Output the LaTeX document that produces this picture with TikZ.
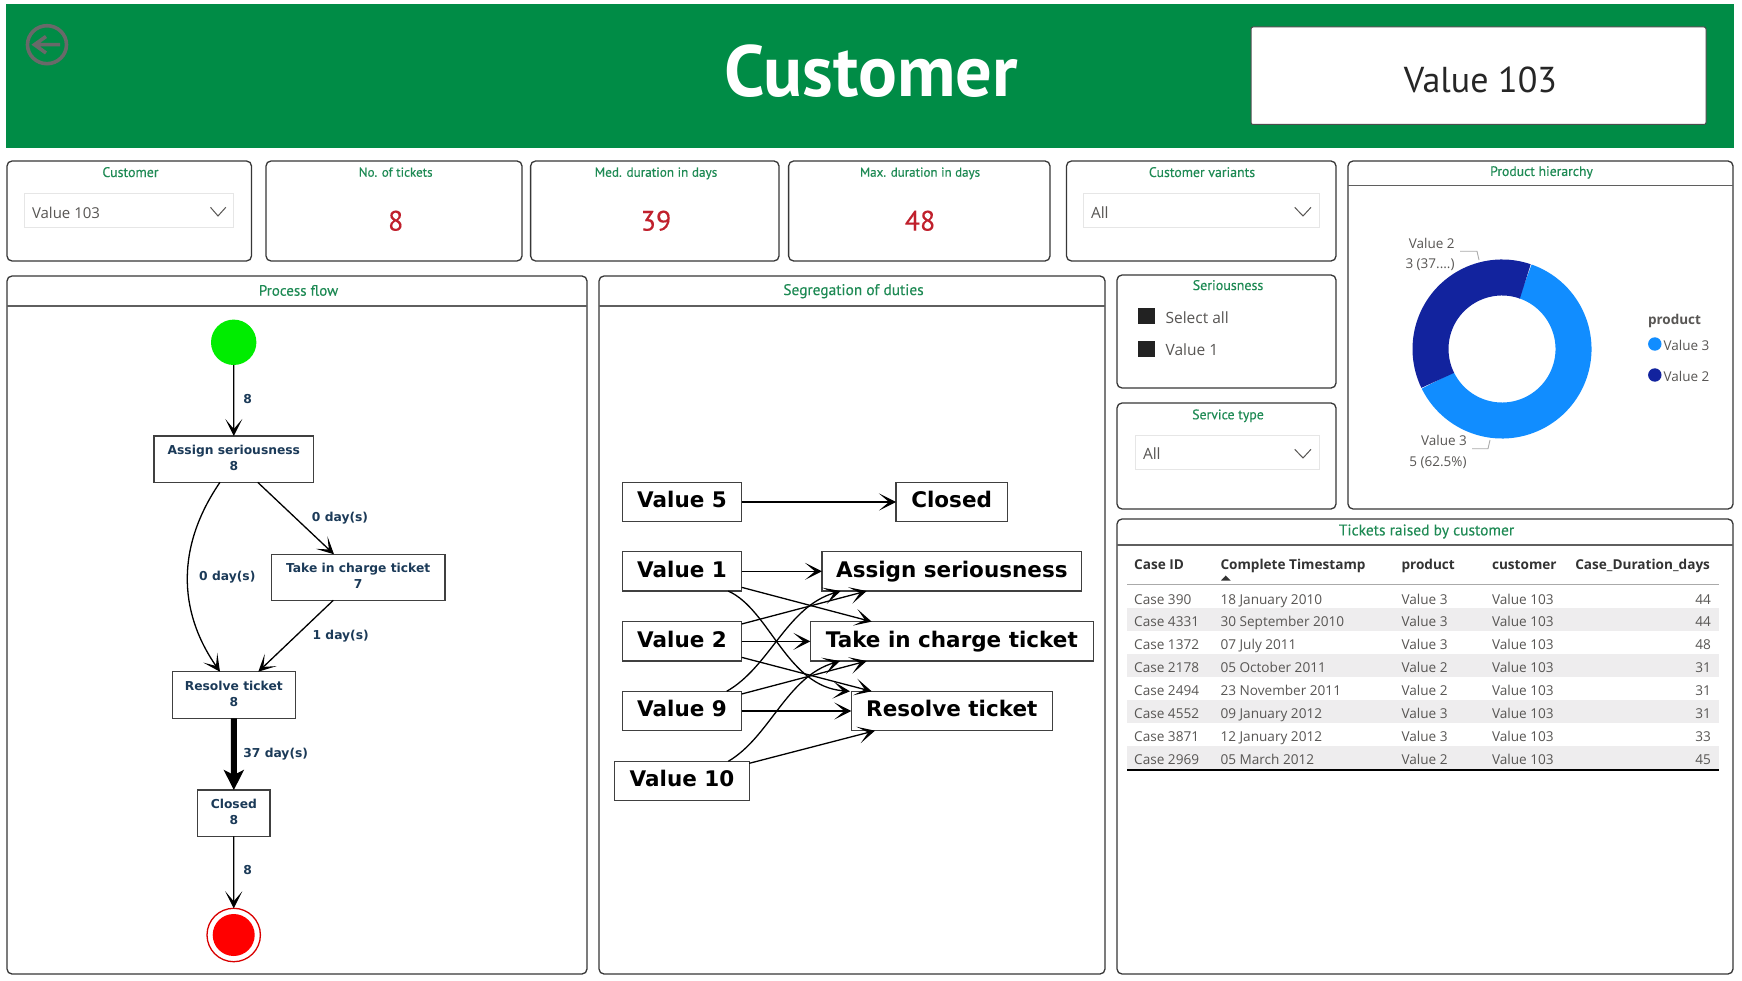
\documentclass[tikz,border=0pt]{standalone}
\usepackage{fontspec}
\setmainfont{Open Sans}
\newfontfamily\din{PT Sans}
\newfontfamily\dinm[FakeBold=0.25]{PT Sans}
\newfontfamily\seg{Open Sans}
\newfontfamily\djv{DejaVu Sans}
\usetikzlibrary{arrows.meta}
\definecolor{hgreen}{RGB}{0,140,70}
\definecolor{tgreen}{RGB}{30,138,84}
\definecolor{kred}{RGB}{192,32,44}
\definecolor{bord}{RGB}{55,55,55}
\definecolor{hline}{RGB}{95,95,95}
\definecolor{sgray}{RGB}{88,86,84}
\definecolor{band}{RGB}{238,237,238}
\definecolor{ddb}{RGB}{230,230,230}
\definecolor{lblue}{RGB}{17,141,255}
\definecolor{dblue}{RGB}{18,35,158}
\definecolor{pflow}{RGB}{27,58,88}
\definecolor{leader}{RGB}{170,170,170}
\definecolor{chk}{RGB}{34,34,34}
\definecolor{backc}{RGB}{105,105,105}
\tikzset{
  x=1pt,y=-1pt,
  every node/.style={inner sep=0pt,outer sep=0pt},
  fs/.style={font=\fontsize{#1}{#1}\selectfont,text height=\dimexpr #1pt*72/100\relax,text depth=0pt},
  panel/.style={draw=bord,line width=1.3pt,rounded corners=5pt,fill=white},
  headline/.style={draw=hline,line width=1.6pt},
  ptitle/.style={fs=#1,text=tgreen,execute at begin node=\dinm,yshift=.7pt},
  kpi/.style={fs=28,text=kred,execute at begin node=\dinm},
  ddbox/.style={draw=ddb,line width=1pt},
  chev/.style={draw=sgray,line width=1pt},
  stext/.style={fs=#1,text=sgray,execute at begin node=\seg},
  ttext/.style={fs=13.6,text=sgray,anchor=west,execute at begin node=\seg},
  thead/.style={fs=13.6,text=black!80,anchor=west,execute at begin node=\seg\bfseries},
  pbox/.style={draw=black!75,line width=1.2pt,fill=white,text=pflow,align=center,text depth=2pt,
     font=\djv\bfseries\fontsize{12.3}{16}\selectfont},
  plabel/.style={fs=12.3,text=pflow,execute at begin node=\djv\bfseries},
  sbox/.style={draw=black!75,line width=1.2pt,fill=white,minimum height=39.4pt,
     font=\djv\bfseries\fontsize{21.5}{24}\selectfont,text height=15pt,text depth=3.4pt},
  edge/.style={draw=black,line width=1.3pt,-{Stealth[length=17pt,width=17pt,inset=10pt]}},
  fatedge/.style={draw=black,line width=6pt,-{Stealth[length=20pt,width=20pt,inset=5pt]}},
}
\begin{document}
\begin{tikzpicture}
\useasboundingbox (0,0) rectangle (1742,981);
\fill[white] (0,0) rectangle (1742,981);
% header
\fill[hgreen] (6,4) rectangle (1734,148);
\draw[draw=backc,line width=3.6pt] (47,44.7) ellipse [x radius=19.5,y radius=19];
\draw[draw=backc,line width=3.6pt] (60,44.7) -- (34.5,44.7) (46,36.5) -- (34.5,44.7) -- (46,53);
\node[fs=72.5,text=white,execute at begin node=\din\bfseries] (maintitle) at (871,70) {Customer};
\draw[fill=white,draw=black!70,line width=1pt,rounded corners=2pt] (1251,27) rectangle (1706,124.5);
\node[fs=36,text=black!85,execute at begin node=\din] (selvalue) at (1480.5,80) {Value 103};
% top row panels
\draw[panel] (7,161) rectangle (251.5,261);
\draw[panel] (266,161) rectangle (522,261);
\draw[panel] (530.6,161) rectangle (779,261);
\draw[panel] (788.6,161) rectangle (1050,261);
\draw[panel] (1066.5,161) rectangle (1336,261);
\node[ptitle=13.9] (t1) at (130.5,172.7) {Customer};
\node[ptitle=13] (t2) at (395.7,172.7) {No. of tickets};
\node[ptitle=13.2] (t3) at (656,172.7) {Med. duration in days};
\node[ptitle=13] (t4) at (920,172.7) {Max. duration in days};
\node[ptitle=13.8] (t5) at (1202,172.7) {Customer variants};
\draw[ddbox] (24.5,193.3) rectangle (233.5,227.7);
\node[stext=15,anchor=west] (dd1) at (32,213) {Value 103};
\draw[chev] (210.5,207.3) -- (218,216) -- (225.8,207.3);
\node[kpi] (k1) at (395.7,220.5) {8};
\node[kpi] (k2) at (656,220.5) {39};
\node[kpi] (k3) at (920,220.5) {48};
\draw[ddbox] (1083,193.3) rectangle (1319,227.7);
\node[stext=15.5,anchor=west] (dd2) at (1091,213) {All};
\draw[chev] (1294.7,207.3) -- (1303,216) -- (1311,207.3);
% Product hierarchy
\draw[panel] (1348,161) rectangle (1733,509);
\draw[headline] (1348,185.7) -- (1733,185.7);
\node[ptitle=13.7] (t6) at (1541.5,171.7) {Product hierarchy};
\draw[line width=36pt,lblue] (1502,349) ++(71:71.5pt) arc[start angle=71,end angle=-154,radius=71.5pt];
\draw[line width=36pt,dblue] (1502,349) ++(71:71.5pt) arc[start angle=71,end angle=206,radius=71.5pt];
\node[stext=13.5] (l2a) at (1431.8,243.3) {Value 2};
\node[stext=13.5] (l2b) at (1430,263.3) {3 (37....)};
\node[stext=13.5] (l3a) at (1444,440.3) {Value 3};
\node[stext=13.5] (l3b) at (1438,461.3) {5 (62.5\%)};
\draw[leader,line width=.9pt] (1460,251.3) -- (1477,251.3) -- (1479,260);
\draw[leader,line width=.9pt] (1472,448.7) -- (1488,448.7) -- (1490,440);
\node[stext=13.5,anchor=west,execute at begin node=\seg\bfseries] (lg0) at (1648,319.3) {product};
\fill[lblue] (1654.8,344) circle (6.7pt);
\fill[dblue] (1654.8,375) circle (6.7pt);
\node[stext=13.5,anchor=west] (lg1) at (1663.6,346) {Value 3};
\node[stext=13.5,anchor=west] (lg2) at (1663.6,377) {Value 2};
% Seriousness / service
\draw[panel] (1117,275) rectangle (1336,388);
\node[ptitle=14] (t7) at (1228,285.7) {Seriousness};
\fill[chk] (1138,308) rectangle (1155,324);
\fill[chk] (1138,340.7) rectangle (1155,356.7);
\node[stext=15.5,anchor=west] (s1) at (1165.6,317.7) {Select all};
\node[stext=15.5,anchor=west] (s2) at (1165.6,349.5) {Value 1};
\draw[panel] (1117,403) rectangle (1336,509);
\node[ptitle=13.8] (t8) at (1228,415) {Service type};
\draw[ddbox] (1135.4,435.3) rectangle (1319,469.3);
\node[stext=15.5,anchor=west] (dd3) at (1143,454) {All};
\draw[chev] (1294.7,449.3) -- (1303,458) -- (1311,449.3);
% big panels
\draw[panel] (7,276) rectangle (587,974);
\draw[headline] (7,306) -- (587,306);
\node[ptitle=15] (t9) at (298.5,291) {Process flow};
\draw[panel] (599,276) rectangle (1105,974);
\draw[headline] (599,306) -- (1105,306);
\node[ptitle=15.4] (t10) at (853.5,290.2) {Segregation of duties};
\draw[panel] (1117,519) rectangle (1733,974);
\draw[headline] (1117,544.7) -- (1733,544.7);
\node[ptitle=15.5] (t11) at (1426.5,530.5) {Tickets raised by customer};
% table
\foreach \ya/\yb in {608/630.7,654/676.7,700/722.7,746/769.3} \fill[band] (1127.3,\ya) rectangle (1719,\yb);
\node[thead] (h1) at (1134.2,565) {Case ID};
\node[thead] (h2) at (1220.5,565) {Complete Timestamp};
\node[thead] (h3) at (1401.5,565) {product};
\node[thead] (h4) at (1492,565) {customer};
\node[thead,anchor=east] (h5) at (1710,565) {Case\_Duration\_days};
\fill[black!80] (1221,580.5) -- (1230.5,580.5) -- (1225.7,575.5) -- cycle;
\draw[leader,line width=.9pt] (1127.3,584.3) -- (1719,584.3);
\foreach \i/\yy/\a/\b/\c/\d in {
 1/599.5/Case 390/18 January 2010/Value 3/44,
 2/621.5/Case 4331/30 September 2010/Value 3/44,
 3/644.5/Case 1372/07 July 2011/Value 3/48,
 4/667.5/Case 2178/05 October 2011/Value 2/31,
 5/690.5/Case 2494/23 November 2011/Value 2/31,
 6/713.5/Case 4552/09 January 2012/Value 3/31,
 7/736.5/Case 3871/12 January 2012/Value 3/33,
 8/759.5/Case 2969/05 March 2012/Value 2/45}{
  \node[ttext] (ra\i) at (1134.2,\yy) {\a};
  \node[ttext] (rb\i) at (1220.5,\yy) {\b};
  \node[ttext] (rc\i) at (1401.5,\yy) {\c};
  \node[ttext] (rd\i) at (1492,\yy) {Value 103};
  \node[ttext,anchor=east] (re\i) at (1710.8,\yy) {\d};
}
\draw[black,line width=1.5pt] (1127.3,770) -- (1719,770);
% process flow
\node[circle,fill=green!93!black,minimum size=45.4pt] (start) at (233.7,342.3) {};
\node[pbox,minimum width=159.7pt,minimum height=46.3pt] (assign) at (233.85,459.15) {Assign seriousness\\8};
\node[pbox,minimum width=173.7pt,minimum height=46pt] (take) at (358.15,577.3) {Take in charge ticket\\7};
\node[pbox,minimum width=123pt,minimum height=46.6pt] (resolve) at (233.8,695) {Resolve ticket\\8};
\node[pbox,minimum width=72.3pt,minimum height=46.3pt] (closed) at (233.85,813.15) {Closed\\8};
\node[circle,draw=red!85!black,line width=1.3pt,fill=white,minimum size=53.4pt] (end) at (233.7,935) {};
\fill[red] (end.center) circle (21pt);
\draw[edge] (start) -- (assign);
\draw[edge] ([xshift=23.85pt]assign.south) -- ([xshift=-24.15pt]take.north);
\draw[edge] ([xshift=-13.85pt]assign.south) .. controls (177,545) and (177,610) .. ([xshift=-13.8pt]resolve.north);
\draw[edge] ([xshift=-24.85pt]take.south) -- ([xshift=24.5pt]resolve.north);
\draw[fatedge] (resolve) -- (closed);
\draw[edge] (closed) -- (end);
\node[plabel] (e1) at (247.7,398.7) {8};
\node[plabel] (e2) at (340,516.7) {0 day(s)};
\node[plabel] (e3) at (227.3,576) {0 day(s)};
\node[plabel] (e4) at (340.7,635) {1 day(s)};
\node[plabel] (e5) at (275.7,752.7) {37 day(s)};
\node[plabel] (e6) at (247.7,870) {8};
% segregation
\node[sbox,minimum width=119.4pt] (v5) at (682,502) {Value 5};
\node[sbox,minimum width=111.3pt] (cl2) at (951.65,502) {Closed};
\node[sbox,minimum width=119.4pt] (v1) at (682,571.35) {Value 1};
\node[sbox,minimum width=259.7pt] (as2) at (951.85,571.35) {Assign seriousness};
\node[sbox,minimum width=119.4pt] (v2) at (682,641.35) {Value 2};
\node[sbox,minimum width=283pt] (ta2) at (951.8,641.35) {Take in charge ticket};
\node[sbox,minimum width=119.4pt] (v9) at (682,711) {Value 9};
\node[sbox,minimum width=201pt] (re2) at (951.8,711) {Resolve ticket};
\node[sbox,minimum width=134.6pt] (v10) at (682,781) {Value 10};
\draw[edge] (v5) -- (cl2);
\draw[edge] (v1) -- (as2);
\draw[edge] ([yshift=-16pt]v1.east) -- ([xshift=-80.1pt]ta2.north);
\draw[edge] ([xshift=46.3pt]v1.south) .. controls (770,610) and (786.7,686.7) .. ([xshift=-101.8pt]re2.north);
\draw[edge] ([yshift=17.35pt]v2.east) -- ([xshift=-85.15pt]as2.south);
\draw[edge] (v2) -- (ta2);
\draw[edge] ([yshift=-16pt]v2.east) -- ([xshift=-80.1pt]re2.north);
\draw[edge] ([xshift=44.7pt]v9.north) .. controls (770,666.7) and (786.7,606.7) .. ([xshift=-111.15pt]as2.south);
\draw[edge] ([yshift=17pt]v9.east) -- ([xshift=-85.1pt]ta2.south);
\draw[edge] (v9) -- (re2);
\draw[edge] ([xshift=46.3pt]v10.north) .. controls (770,736.7) and (786.7,676.7) .. ([xshift=-111.8pt]ta2.south);
\draw[edge] ([yshift=17.7pt]v10.east) -- ([xshift=-76.8pt]re2.south);
\end{tikzpicture}
\end{document}
